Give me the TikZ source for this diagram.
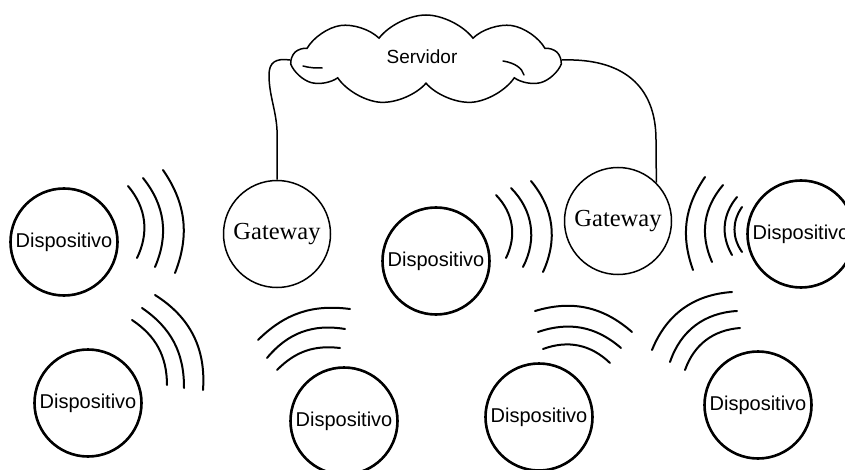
\documentclass[tikz,border=0pt]{standalone}
\usepackage{fontspec}
\newfontfamily\arialike{Liberation Sans}
\newfontfamily\timeslike{Liberation Serif}
\usetikzlibrary{shapes.symbols}

\tikzset{
  device/.style={circle, draw, line width=2.6pt, minimum size=107pt, inner sep=0pt,
                 font=\arialike\fontsize{20}{24}\selectfont},
  gateway/.style={circle, draw, line width=1.5pt, minimum size=107pt, inner sep=0pt,
                  font=\timeslike\fontsize{24.5}{28}\selectfont},
  server/.style={cloud, draw, line width=1.5pt, cloud puffs=9, cloud puff arc=105,
                 aspect=2.6, minimum width=266pt, minimum height=90pt, inner sep=0pt},
  link/.style={line width=1.5pt},
  wave/.style={line width=2pt, line cap=round},
  curl/.style={line width=1.5pt, line cap=round}
}

\begin{document}
\begin{tikzpicture}[x=1pt, y=-1pt]
  \useasboundingbox (0,0) rectangle (845,470);
  \clip (0,0) rectangle (845,470);

  % cloud with the server
  \node[server] (srv) at (426,60) {};
  \node[font=\arialike\fontsize{19}{22}\selectfont] (srvtxt) at (422,57) {Servidor};
  \draw[curl] (303,66) .. controls (310,68) and (316,68) .. (322,68);
  \draw[curl] (503,61) .. controls (515,63) and (522,68) .. (524,75);

  % gateways
  \node[gateway] (gwl) at (277,234) {Gateway};
  \node[gateway] (gwr) at (618,221) {Gateway};

  % devices
  \node[device] (d1) at (64,242)  {Dispositivo};
  \node[device] (d2) at (436,261) {Dispositivo};
  \node[device] (d3) at (801,234) {Dispositivo};
  \node[device] (d4) at (88,403)  {Dispositivo};
  \node[device] (d5) at (344,421) {Dispositivo};
  \node[device] (d6) at (539,417) {Dispositivo};
  \node[device] (d7) at (758,405) {Dispositivo};

  % wired links from the gateways to the server
  \draw[link] (gwl.north) -- (277,130) .. controls (276,110) and (269,95) .. (269,75)
              .. controls (269,62) and (276,58) .. (srv.west);
  \draw[link] (srv.east) .. controls (622,58) and (656,85) .. (656,140) -- (gwr.45);

  % radio waves between the first device and the left gateway
  \draw[wave] (128,186) to[bend left=33] (137,258);
  \draw[wave] (143,178) to[bend left=31] (155,267);
  \draw[wave] (163,170) to[bend left=28] (175,273);
  % radio waves between the middle device and the right gateway
  \draw[wave] (496,195) to[bend left=35] (506,258);
  \draw[wave] (511,188) to[bend left=36] (523,267);
  \draw[wave] (531,181) to[bend left=32] (543,272);
  % radio waves of the right device
  \draw[wave] (705,177) to[bend right=27] (693,270);
  \draw[wave] (723,185) to[bend right=32] (712,262);
  \draw[wave] (737,197) to[bend right=35] (732,255);
  \draw[wave] (742,207) to[bend right=35] (742,252);
  % radio waves of the lower left device
  \draw[wave] (132,320) to[bend left=28] (167,385);
  \draw[wave] (142,308) to[bend left=28] (184,388);
  \draw[wave] (155,295) to[bend left=31] (203,390);
  % radio waves above the lower devices
  \draw[wave] (258,340) to[bend left=26] (350,309);
  \draw[wave] (267,358) to[bend left=30] (345,329);
  \draw[wave] (277,370) to[bend left=26] (340,348);
  \draw[wave] (535,311) to[bend left=29] (632,332);
  \draw[wave] (538,332) to[bend left=30] (621,348);
  \draw[wave] (543,349) to[bend left=32] (610,363);
  \draw[wave] (652,350) to[bend left=32] (732,292);
  \draw[wave] (670,362) to[bend left=34] (737,311);
  \draw[wave] (685,370) to[bend left=33] (740,328);
\end{tikzpicture}
\end{document}
